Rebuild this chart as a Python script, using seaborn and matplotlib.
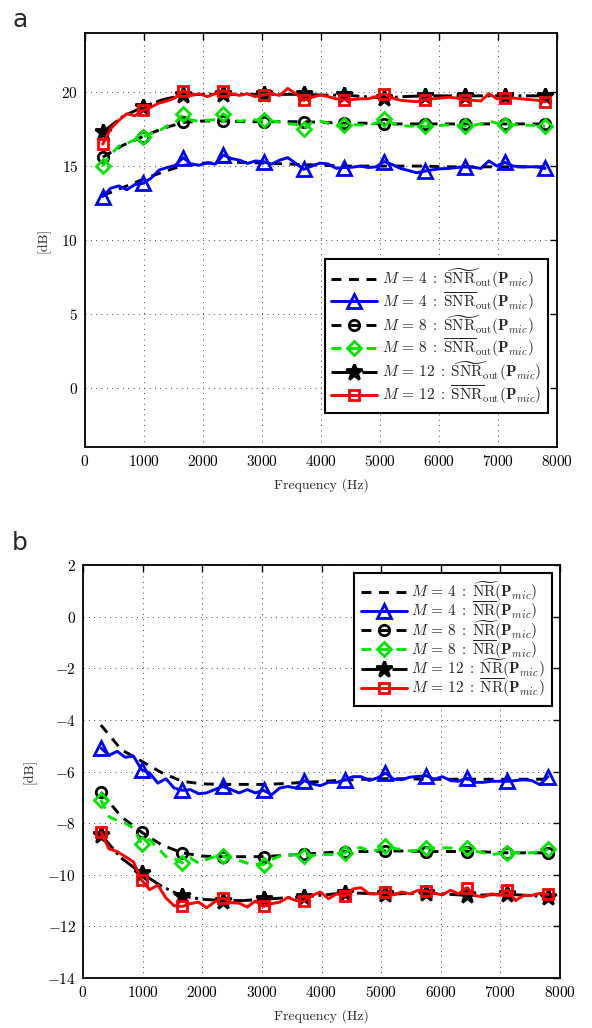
import numpy as np
import matplotlib
matplotlib.use("Agg")
import matplotlib.pyplot as plt
import seaborn as sns

# ---------------- data ----------------
# dense grid (jagged measured curves), markers every 5th point
FREQ_DENSE = np.linspace(300, 7800, 56)
# smooth grid (expected curves), markers every 2nd point
FREQ_SMOOTH = np.linspace(300, 7800, 23)

# Panel a : SNR_out [dB]
a_m4_tilde = [13.0, 13.55, 14.1, 14.6, 15.05, 15.2, 15.25, 15.25, 15.2, 15.15, 15.1, 15.05,
              15.0, 15.0, 15.0, 15.0, 15.0, 14.95, 14.95, 14.95, 14.95, 14.95, 14.95]
a_m4_bar = [12.94, 13.5, 13.66, 13.4, 13.75, 13.83, 14.17, 14.73, 14.9, 15.04,
            15.57, 15.13, 15.06, 15.22, 15.13, 15.75, 15.51, 15.4, 15.18, 15.35,
            15.29, 15.13, 15.4, 15.57, 15.18, 14.78, 15.0, 15.2, 15.15, 14.85,
            14.9, 14.92, 15.0, 14.9, 14.95, 15.3, 15.1, 14.84, 14.7, 14.55,
            14.65, 14.75, 14.82, 14.84, 14.9, 14.95, 14.92, 14.84, 15.35, 15.0,
            15.25, 15.0, 14.95, 14.95, 14.95, 14.84]
a_m8_tilde = [15.6, 16.4, 17.0, 17.55, 17.95, 18.05, 18.05, 18.0, 18.0, 18.0, 18.0, 17.95,
              17.9, 17.9, 17.85, 17.85, 17.85, 17.85, 17.85, 17.85, 17.85, 17.85, 17.85]
a_m8_bar = [15.0, 15.8, 16.34, 16.52, 16.79, 16.97, 17.2, 17.38, 17.71, 17.93,
            18.5, 18.09, 18.05, 18.09, 18.14, 18.54, 18.14, 18.03, 18.09, 18.14,
            18.09, 18.05, 17.98, 17.87, 17.82, 17.53, 17.95, 18.05, 17.9, 17.7,
            17.76, 17.8, 17.78, 17.8, 17.9, 18.15, 17.9, 17.75, 17.7, 17.7,
            17.68, 17.7, 17.75, 17.78, 17.75, 17.7, 17.75, 17.85, 18.05, 17.9,
            17.78, 17.8, 17.78, 17.76, 17.75, 17.7]
a_m12_tilde = [17.3, 18.35, 19.0, 19.5, 19.8, 19.85, 19.85, 19.85, 19.85, 19.85, 19.85, 19.8,
               19.8, 19.7, 19.6, 19.7, 19.75, 19.75, 19.75, 19.75, 19.75, 19.75, 19.75]
a_m12_bar = [16.48, 17.53, 18.09, 18.54, 18.4, 18.77, 18.99, 19.26, 19.4, 19.62,
             20.11, 19.78, 19.89, 19.7, 19.89, 20.1, 19.89, 19.78, 19.89, 19.7,
             19.82, 19.89, 19.78, 20.25, 19.89, 19.44, 19.65, 19.8, 19.7, 19.55,
             19.48, 19.5, 19.55, 19.55, 19.7, 19.89, 19.6, 19.45, 19.4, 19.35,
             19.48, 19.55, 19.6, 19.65, 19.6, 19.48, 19.45, 19.4, 19.9, 19.55,
             19.6, 19.6, 19.55, 19.5, 19.45, 19.35]

# Panel b : NR [dB]
b_m4_tilde = [-4.2, -5.15, -5.6, -6.05, -6.38, -6.48, -6.5, -6.5, -6.5, -6.47, -6.42, -6.38,
              -6.33, -6.3, -6.28, -6.28, -6.3, -6.3, -6.3, -6.3, -6.3, -6.3, -6.3]
b_m4_bar = [-5.09, -5.37, -5.22, -5.45, -5.4, -5.93, -6.06, -6.45, -6.28, -6.64,
            -6.73, -6.7, -6.86, -6.83, -6.7, -6.58, -6.7, -6.83, -6.7, -6.83,
            -6.73, -6.9, -6.64, -6.58, -6.64, -6.35, -6.48, -6.55, -6.42, -6.42,
            -6.32, -6.2, -6.2, -6.35, -6.25, -6.06, -6.3, -6.32, -6.22, -6.19,
            -6.16, -6.3, -6.2, -6.35, -6.38, -6.25, -6.42, -6.42, -6.38, -6.38,
            -6.38, -6.35, -6.32, -6.35, -6.51, -6.2]
b_m8_tilde = [-6.8, -7.75, -8.35, -8.85, -9.15, -9.28, -9.3, -9.3, -9.3, -9.25, -9.2, -9.15,
              -9.1, -9.1, -9.08, -9.08, -9.1, -9.1, -9.1, -9.12, -9.15, -9.15, -9.15]
b_m8_bar = [-7.09, -7.75, -7.9, -8.0, -8.19, -8.79, -8.64, -8.96, -9.3, -9.37,
            -9.54, -9.35, -9.55, -9.41, -9.3, -9.28, -9.35, -9.45, -9.55, -9.6,
            -9.61, -9.41, -9.28, -9.24, -9.22, -9.26, -9.25, -9.22, -9.22, -9.2,
            -9.15, -8.98, -8.95, -9.08, -9.05, -8.9, -8.98, -9.02, -9.08, -9.05,
            -8.96, -8.96, -8.96, -8.96, -9.08, -8.96, -9.08, -9.15, -9.22, -9.18,
            -9.15, -9.15, -9.15, -9.15, -9.1, -9.02]
b_m12_tilde = [-8.45, -9.35, -9.94, -10.45, -10.83, -10.95, -11.0, -11.0, -10.95, -10.9, -10.86,
               -10.78, -10.7, -10.72, -10.76, -10.73, -10.7, -10.75, -10.8, -10.78, -10.76,
               -10.8, -10.86]
b_m12_bar = [-8.35, -9.0, -9.1, -9.3, -9.5, -10.2, -10.58, -10.4, -10.9, -11.2,
             -11.23, -11.12, -11.06, -11.28, -11.05, -10.9, -11.08, -11.1, -11.25, -11.02,
             -11.23, -11.12, -11.06, -10.88, -11.0, -11.02, -10.8, -10.67, -10.93, -10.74,
             -10.83, -10.55, -10.5, -10.74, -10.74, -10.67, -10.78, -10.67, -10.74, -10.6,
             -10.63, -10.72, -10.78, -10.6, -10.74, -10.5, -10.8, -10.86, -10.74, -10.8,
             -10.58, -11.0, -10.8, -10.8, -10.72, -10.76]

X_TICKS = [0, 1000, 2000, 3000, 4000, 5000, 6000, 7000, 8000]
A_YTICKS = [0, 5, 10, 15, 20]
B_YTICKS = [2, 0, -2, -4, -6, -8, -10, -12, -14]

LABELS_A = [r"$M\,=\,4\;:\;\widetilde{\mathrm{SNR}}_{\mathrm{out}}(\mathbf{P}_{mic})$",
            r"$M\,=\,4\;:\;\overline{\mathrm{SNR}}_{\mathrm{out}}(\mathbf{P}_{mic})$",
            r"$M\,=\,8\;:\;\widetilde{\mathrm{SNR}}_{\mathrm{out}}(\mathbf{P}_{mic})$",
            r"$M\,=\,8\;:\;\overline{\mathrm{SNR}}_{\mathrm{out}}(\mathbf{P}_{mic})$",
            r"$M\,=\,12\;:\;\widetilde{\mathrm{SNR}}_{\mathrm{out}}(\mathbf{P}_{mic})$",
            r"$M\,=\,12\;:\;\overline{\mathrm{SNR}}_{\mathrm{out}}(\mathbf{P}_{mic})$"]
LABELS_B = [r"$M\,=\,4\;:\;\widetilde{\mathrm{NR}}(\mathbf{P}_{mic})$",
            r"$M\,=\,4\;:\;\overline{\mathrm{NR}}(\mathbf{P}_{mic})$",
            r"$M\,=\,8\;:\;\widetilde{\mathrm{NR}}(\mathbf{P}_{mic})$",
            r"$M\,=\,8\;:\;\overline{\mathrm{NR}}(\mathbf{P}_{mic})$",
            r"$M\,=\,12\;:\;\widetilde{\mathrm{NR}}(\mathbf{P}_{mic})$",
            r"$M\,=\,12\;:\;\overline{\mathrm{NR}}(\mathbf{P}_{mic})$"]

# ---------------- style ----------------
sns.set_theme(style="white")
plt.rcParams.update({
    "font.family": "serif",
    "font.serif": ["cmr10"],
    "mathtext.fontset": "cm",
    "axes.formatter.use_mathtext": True,
    "axes.unicode_minus": True,
    "font.size": 10,
    "xtick.direction": "in",
    "ytick.direction": "in",
    "xtick.top": True,
    "ytick.right": True,
    "axes.edgecolor": "black",
    "axes.linewidth": 1.3,
})

BLUE = "#0000FF"
RED = "#FF0000"
GREEN = "#00E400"
DASH = (0, (3.4, 2.6))

# (key, color, linestyle, marker, ms, facecolor, smooth?)
STYLES = [
    ("m4_tilde", "black", DASH, None, 0, "none", True),
    ("m4_bar", BLUE, "-", "^", 9.5, "none", False),
    ("m8_tilde", "black", DASH, "o", 7.5, "none", True),
    ("m8_bar", GREEN, DASH, "D", 7, "none", False),
    ("m12_tilde", "black", "-.", "*", 12, "black", True),
    ("m12_bar", RED, "-", "s", 7, "none", False),
]

fig = plt.figure(figsize=(5.92, 10.28), dpi=100)
ax_a = fig.add_axes([85 / 592, 1 - 447 / 1028, 472 / 592, 414 / 1028])
ax_b = fig.add_axes([83 / 592, 1 - 978 / 1028, 477 / 592, 413 / 1028])

data_a = dict(m4_tilde=a_m4_tilde, m4_bar=a_m4_bar, m8_tilde=a_m8_tilde,
              m8_bar=a_m8_bar, m12_tilde=a_m12_tilde, m12_bar=a_m12_bar)
data_b = dict(m4_tilde=b_m4_tilde, m4_bar=b_m4_bar, m8_tilde=b_m8_tilde,
              m8_bar=b_m8_bar, m12_tilde=b_m12_tilde, m12_bar=b_m12_bar)


def draw(ax, data, labels):
    handles = []
    for (key, col, ls, mk, ms, fc, smooth), lab in zip(STYLES, labels):
        x = FREQ_SMOOTH if smooth else FREQ_DENSE
        every = 2 if smooth else 5
        n0 = len(ax.lines)
        sns.lineplot(x=x, y=data[key], ax=ax, color=col, linewidth=2.1,
                     marker=mk if mk else "", markersize=ms,
                     markerfacecolor=fc, markeredgecolor=col, markeredgewidth=2.0,
                     markevery=every, legend=False, errorbar=None, sort=False)
        line = ax.lines[n0]
        line.set_linestyle(ls)
        line.set_label(lab)
        handles.append(line)
    ax.set_xlim(0, 8000)
    ax.set_xticks(X_TICKS)
    ax.grid(True, color="#444444", linestyle=(0, (1, 4.5)), linewidth=0.7)
    ax.tick_params(axis="both", length=5, width=1.0, labelsize=11, pad=5,
                   colors="black")
    ax.set_xlabel("Frequency (Hz)", fontsize=10, labelpad=7)
    ax.set_ylabel("[dB]", fontsize=10, labelpad=8)
    for s in ax.spines.values():
        s.set_visible(True)
        s.set_color("black")
        s.set_linewidth(1.3)
    return handles


h_a = draw(ax_a, data_a, LABELS_A)
ax_a.set_ylim(-4, 24)
ax_a.set_yticks(A_YTICKS)
leg_a = ax_a.legend(handles=h_a, loc="lower right", bbox_to_anchor=(0.981, 0.082),
                    borderaxespad=0, fontsize=11, handlelength=3.0, handletextpad=0.3,
                    labelspacing=0.0, borderpad=0.45, fancybox=False, framealpha=1,
                    edgecolor="black")
leg_a.get_frame().set_linewidth(1.5)

h_b = draw(ax_b, data_b, LABELS_B)
ax_b.set_ylim(-14, 2)
ax_b.set_yticks(B_YTICKS)
leg_b = ax_b.legend(handles=h_b, loc="upper right", bbox_to_anchor=(0.983, 0.981),
                    borderaxespad=0, fontsize=11, handlelength=3.0, handletextpad=0.3,
                    labelspacing=-0.25, borderpad=0.45, fancybox=False, framealpha=1,
                    edgecolor="black")
leg_b.get_frame().set_linewidth(1.5)

fig.text(20 / 592, 1 - 20 / 1028, "a", fontsize=18, family="DejaVu Sans",
         ha="center", va="center")
fig.text(20 / 592, 1 - 543 / 1028, "b", fontsize=18, family="DejaVu Sans",
         ha="center", va="center")

fig.savefig("out.png", dpi=100)
